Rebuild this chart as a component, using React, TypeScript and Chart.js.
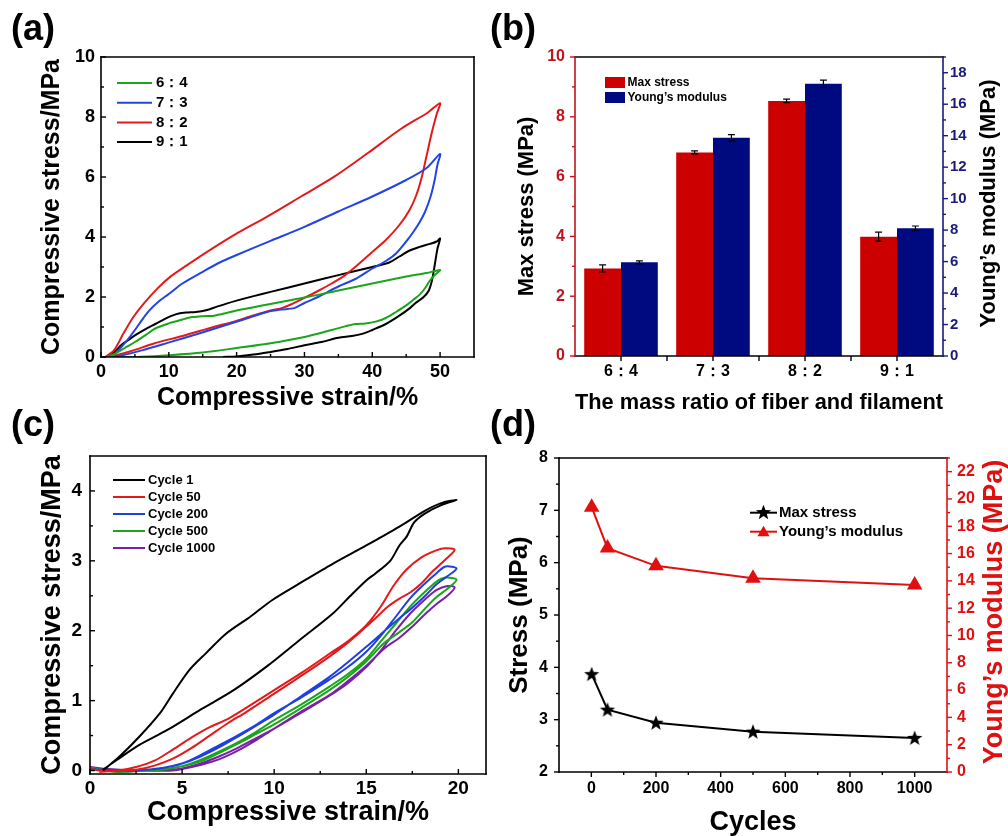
import React, { useEffect, useRef } from 'react';
import { Chart, registerables } from 'chart.js';

Chart.register(...registerables);

const FONT = "'Liberation Sans', Arial, Helvetica, sans-serif";

// ---------------- (a) data ----------------
const ratioLabels = ['6：4', '7：3', '8：2', '9：1'];
const ratioColors = ['#1aa51a', '#2244e6', '#e41a1a', '#000000'];
const loop64 = [
  [0.9, 0], [2, 0.1], [3.5, 0.3], [5, 0.5], [6.5, 0.72], [8, 0.95], [10, 1.12], [12, 1.25], [13.5, 1.33], [15, 1.36],
  [16.5, 1.37], [18, 1.44], [20, 1.55], [22.5, 1.66], [25, 1.77], [30, 1.98], [35, 2.22], [40, 2.45], [45, 2.68], [48, 2.8], [50, 2.9],
  [49.3, 2.75], [48.5, 2.55], [47.8, 2.3], [47, 2.08], [46, 1.9], [45, 1.72], [43.5, 1.5], [42, 1.3], [40.5, 1.18], [39, 1.12],
  [37.5, 1.1], [36, 1.02], [34, 0.9], [30, 0.67], [25, 0.46], [20, 0.3], [15, 0.15], [10, 0.06], [6, 0.01], [3, 0],
];
const loop73 = [
  [0.9, 0], [2, 0.1], [3, 0.33], [4, 0.6], [5, 0.9], [6, 1.22], [7, 1.52], [8.5, 1.85], [10, 2.1], [12, 2.45], [15, 2.84],
  [17.5, 3.15], [20, 3.4], [25, 3.87], [30, 4.34], [35, 4.85], [40, 5.35], [45, 5.9], [48, 6.3], [50, 6.77],
  [49.6, 6.4], [49.2, 5.9], [48.6, 5.35], [47.8, 4.85], [47, 4.5], [46, 4.15], [45, 3.85], [43.5, 3.45], [42, 3.2], [40, 2.95],
  [37.5, 2.6], [35, 2.35], [32, 2.0], [30, 1.8], [28.5, 1.63], [26.5, 1.58], [24.5, 1.5], [22, 1.32], [19.6, 1.15], [14.7, 0.8],
  [9.8, 0.47], [6, 0.22], [3, 0.05], [1.2, 0],
];
const loop82 = [
  [0.6, 0], [1.9, 0.22], [3.3, 0.78], [4.8, 1.34], [6.3, 1.78], [8.3, 2.28], [10.2, 2.67], [12.7, 3.06], [15.7, 3.51],
  [19.6, 4.06], [24.5, 4.68], [29.5, 5.35], [34.4, 6.01], [39.3, 6.79], [44.2, 7.6], [48.2, 8.15], [50, 8.46],
  [49.5, 8.1], [48.8, 7.5], [48, 6.7], [47.3, 6.0], [46.5, 5.4], [45.5, 4.9], [44, 4.4], [42, 3.9], [40, 3.5], [38, 3.1],
  [36, 2.73], [34, 2.45], [32, 2.2], [30, 1.97], [28, 1.75], [26.5, 1.62], [25, 1.55], [22, 1.35], [19.6, 1.18], [16.6, 1.0],
  [12, 0.7], [7.8, 0.45], [4.5, 0.2], [2.4, 0.07], [0.6, 0],
];
const loop91 = [
  [0.8, 0], [2, 0.17], [3, 0.4], [4, 0.56], [5, 0.72], [6.5, 0.92], [8, 1.1], [9.5, 1.28], [11, 1.42], [12.5, 1.48], [14, 1.5],
  [15.5, 1.56], [17, 1.67], [18.5, 1.78], [20, 1.88], [22.5, 2.03], [25, 2.17], [30, 2.45], [35, 2.73], [40, 3.0], [42.5, 3.15],
  [44, 3.35], [45.5, 3.55], [47, 3.67], [48.5, 3.77], [49.5, 3.85], [50, 3.95],
  [49.6, 3.6], [49.2, 3.05], [48.8, 2.55], [48.3, 2.2], [47.5, 1.98], [46.5, 1.82], [45.5, 1.62], [44, 1.38], [42, 1.1], [40, 0.9],
  [38.5, 0.77], [37, 0.7], [35, 0.64], [32.5, 0.5], [30, 0.39], [27.5, 0.27], [25, 0.17], [22.5, 0.08], [20, 0.02], [18, 0],
];
const strainTicksA = [0, 10, 20, 30, 40, 50];
const strainMinorA = [5, 15, 25, 35, 45];
const stressTicksA = [0, 2, 4, 6, 8, 10];
const stressMinorA = [1, 3, 5, 7, 9];

// ---------------- (b) data ----------------
const massRatios = ['6：4', '7：3', '8：2', '9：1'];
const maxStressB = [2.93, 6.81, 8.53, 3.99];
const maxStressErrB = [0.12, 0.05, 0.06, 0.15];
const youngsB = [5.95, 13.87, 17.3, 8.11];
const youngsErrB = [0.1, 0.2, 0.23, 0.15];
const stressTicksB = [0, 2, 4, 6, 8, 10];
const stressMinorB = [1, 3, 5, 7, 9];
const modulusTicksB = [0, 2, 4, 6, 8, 10, 12, 14, 16, 18];
const modulusMinorB = [1, 3, 5, 7, 9, 11, 13, 15, 17, 19];

// ---------------- (c) data ----------------
const cycleLabels = ['Cycle 1', 'Cycle 50', 'Cycle 200', 'Cycle 500', 'Cycle 1000'];
const cycleColors = ['#000000', '#e41a1a', '#1f3fe0', '#1aa51a', '#7b1fa8'];
const cycle1 = [
  [0.7, 0], [1.6, 0.2], [2.7, 0.49], [3.8, 0.82], [4.5, 1.1], [5.4, 1.44], [6.3, 1.68], [7.4, 1.96], [8.7, 2.2], [9.9, 2.44],
  [11.4, 2.68], [13.2, 2.96], [15, 3.22], [16.8, 3.49], [18.2, 3.72], [19.1, 3.83], [19.9, 3.87],
  [19.1, 3.8], [18.2, 3.68], [17.6, 3.55], [17.2, 3.35], [16.8, 3.22], [16.3, 3.0], [15.5, 2.82], [15, 2.72], [14.1, 2.49],
  [13.2, 2.25], [11.4, 1.87], [9.6, 1.49], [7.8, 1.15], [6, 0.87], [4.2, 0.58], [2.7, 0.37], [1.45, 0.15], [0.7, 0.01],
];
const cycle50 = [
  [0.5, -0.02], [1.5, 0], [2.5, 0.05], [3.5, 0.14], [4.5, 0.3], [5.5, 0.47], [6.5, 0.62], [7.5, 0.74], [8.5, 0.9], [10, 1.15],
  [11.5, 1.4], [13, 1.67], [14, 1.85], [15, 2.08], [15.8, 2.35], [16.5, 2.65], [17.2, 2.88], [18, 3.05], [18.8, 3.15], [19.3, 3.18], [19.8, 3.16],
  [19.3, 3.02], [18.6, 2.85], [18, 2.68], [17.4, 2.55], [16.8, 2.46], [16.2, 2.35], [15.5, 2.18], [15, 2.06], [14, 1.83],
  [13, 1.63], [11.5, 1.36], [10, 1.1], [8.5, 0.84], [7.5, 0.68], [6.5, 0.5], [5.5, 0.32], [4.5, 0.17], [3.5, 0.07], [2.5, 0.01],
  [1.5, -0.01], [0.5, 0], [0, 0.03],
];
const cycle200 = [
  [1, 0], [2.5, 0], [4, 0.04], [5, 0.1], [6, 0.22], [7, 0.36], [8, 0.5], [9, 0.65], [10, 0.82], [11.5, 1.05], [13, 1.3],
  [14, 1.48], [15, 1.7], [15.8, 1.93], [16.6, 2.2], [17.4, 2.47], [18.2, 2.68], [18.8, 2.82], [19.3, 2.92], [19.9, 2.89],
  [19.4, 2.78], [18.8, 2.66], [18.2, 2.5], [17.5, 2.33], [16.8, 2.18], [16, 2.0], [15, 1.77], [14, 1.55], [13, 1.34],
  [11.5, 1.07], [10, 0.8], [9, 0.64], [8, 0.48], [7, 0.33], [6, 0.2], [5, 0.1], [4, 0.04], [3, 0.01], [2, -0.01], [0, 0.02],
];
const cycle500 = [
  [2, 0], [3.5, 0], [5, 0.06], [6, 0.15], [7, 0.27], [8, 0.4], [9, 0.55], [10, 0.72], [11.5, 0.95], [13, 1.2], [14, 1.38],
  [15, 1.6], [15.8, 1.85], [16.6, 2.1], [17.4, 2.35], [18.2, 2.56], [18.8, 2.7], [19.3, 2.76], [19.9, 2.73],
  [19.4, 2.6], [18.8, 2.48], [18.2, 2.32], [17.5, 2.12], [16.8, 1.98], [16, 1.83], [15, 1.56], [14, 1.34], [13, 1.15],
  [11.5, 0.9], [10, 0.66], [9, 0.52], [8, 0.38], [7, 0.25], [6, 0.13], [5, 0.06], [4, 0.02], [3, 0], [1.5, -0.02], [0, 0.04],
];
const cycle1000 = [
  [3, 0], [4.5, 0], [6, 0.08], [7, 0.16], [8, 0.28], [9, 0.43], [10, 0.6], [11.5, 0.83], [13, 1.07], [14, 1.25], [15, 1.48],
  [15.8, 1.72], [16.6, 2.0], [17.4, 2.25], [18.2, 2.45], [18.8, 2.58], [19.4, 2.64], [19.8, 2.62],
  [19.4, 2.5], [18.8, 2.38], [18.2, 2.24], [17.5, 2.06], [16.8, 1.9], [16, 1.75], [15, 1.5], [14, 1.28], [13, 1.08],
  [11.5, 0.85], [10, 0.6], [9, 0.46], [8, 0.32], [7, 0.2], [6, 0.1], [5, 0.03], [4, 0.01], [2.5, 0], [1, 0.02], [0, 0.05],
];
const strainTicksC = [0, 5, 10, 15, 20];
const strainMinorC = [2.5, 7.5, 12.5, 17.5];
const stressTicksC = [0, 1, 2, 3, 4];
const stressMinorC = [0.5, 1.5, 2.5, 3.5];

// ---------------- (d) data ----------------
const cyclesD = [1, 50, 200, 500, 1000];
const maxStressD = [3.87, 3.19, 2.94, 2.77, 2.65];
const youngsD = [19.4, 16.4, 15.1, 14.2, 13.7];
const cycleTicksD = [0, 200, 400, 600, 800, 1000];
const cycleMinorD = [100, 300, 500, 700, 900];
const stressTicksD = [2, 3, 4, 5, 6, 7, 8];
const stressMinorD = [2.5, 3.5, 4.5, 5.5, 6.5, 7.5];
const modulusTicksD = [0, 2, 4, 6, 8, 10, 12, 14, 16, 18, 20, 22];
const modulusMinorD = [1, 3, 5, 7, 9, 11, 13, 15, 17, 19, 21, 23];

// ---------------- helpers ----------------
const RED_B = '#c0141c';
const NAVY = '#1a1a7a';
const RED_D = '#e01010';

function starPath(g: any, cx: number, cy: number, R: number, r: number) {
  g.beginPath();
  for (let i = 0; i < 10; i++) {
    const rad = i % 2 === 0 ? R : r;
    const a = -Math.PI / 2 + (i * Math.PI) / 5;
    const x = cx + rad * Math.cos(a);
    const y = cy + rad * Math.sin(a);
    if (i === 0) g.moveTo(x, y);
    else g.lineTo(x, y);
  }
  g.closePath();
}

function makeStar(R: number, color: string) {
  const c = document.createElement('canvas');
  const s = Math.ceil(R * 2 + 2);
  c.width = s;
  c.height = s;
  const g = c.getContext('2d')!;
  g.fillStyle = color;
  starPath(g, s / 2, s / 2 + 0.5, R, R * 0.42);
  g.fill();
  return c;
}

function trianglePath(g: any, cx: number, cy: number, r: number) {
  g.beginPath();
  for (let i = 0; i < 3; i++) {
    const a = (i * 2 * Math.PI) / 3;
    const x = cx + Math.sin(a) * r;
    const y = cy - Math.cos(a) * r;
    if (i === 0) g.moveTo(x, y);
    else g.lineTo(x, y);
  }
  g.closePath();
}

const framePlugin = {
  id: 'frame',
  afterDraw(chart: any, _a: any, o: any) {
    if (!o || !o.sides) return;
    const { ctx } = chart;
    const { left, right, top, bottom } = chart.chartArea;
    ctx.save();
    ctx.lineCap = 'butt';
    for (const t of o.ticks || []) {
      const sc = chart.scales[t.id];
      ctx.strokeStyle = t.color;
      ctx.lineWidth = t.width || 1.4;
      const one = (v: number, len: number) => {
        const p = sc.getPixelForValue(v);
        const s = t.dir === 'in' ? 1 : -1;
        ctx.beginPath();
        if (t.side === 'bottom') {
          ctx.moveTo(p, bottom);
          ctx.lineTo(p, bottom - s * len);
        } else if (t.side === 'left') {
          ctx.moveTo(left, p);
          ctx.lineTo(left + s * len, p);
        } else {
          ctx.moveTo(right, p);
          ctx.lineTo(right - s * len, p);
        }
        ctx.stroke();
      };
      t.major.forEach((v: number) => one(v, t.len));
      (t.minor || []).forEach((v: number) => one(v, t.minorLen));
    }
    const lw = o.lineWidth || 1.6;
    const h = lw / 2;
    ctx.lineWidth = lw;
    const seg = (c: string, x1: number, y1: number, x2: number, y2: number) => {
      ctx.strokeStyle = c;
      ctx.beginPath();
      ctx.moveTo(x1, y1);
      ctx.lineTo(x2, y2);
      ctx.stroke();
    };
    seg(o.sides.top, left - h, top, right + h, top);
    seg(o.sides.bottom, left - h, bottom, right + h, bottom);
    seg(o.sides.left, left, top - h, left, bottom + h);
    seg(o.sides.right, right, top - h, right, bottom + h);
    ctx.restore();
  },
};

const keysPlugin = {
  id: 'keys',
  afterDraw(chart: any, _a: any, o: any) {
    if (!o || !o.items) return;
    const { ctx } = chart;
    ctx.save();
    ctx.font = `bold ${o.size}px ${FONT}`;
    ctx.textBaseline = 'middle';
    ctx.textAlign = 'left';
    o.items.forEach((it: any, i: number) => {
      const y = o.y0 + i * o.dy;
      if (o.kind === 'box') {
        ctx.fillStyle = it.color;
        ctx.fillRect(o.x0, y - o.boxH / 2, o.x1 - o.x0, o.boxH);
      } else {
        ctx.strokeStyle = it.color;
        ctx.lineWidth = o.lw;
        ctx.beginPath();
        ctx.moveTo(o.x0, y);
        ctx.lineTo(o.x1, y);
        ctx.stroke();
        const cx = (o.x0 + o.x1) / 2;
        if (it.marker === 'star') {
          ctx.fillStyle = it.color;
          starPath(ctx, cx, y, 8, 3.4);
          ctx.fill();
        } else if (it.marker === 'triangle') {
          ctx.fillStyle = it.color;
          trianglePath(ctx, cx, y + 1, 7);
          ctx.fill();
        }
      }
      ctx.fillStyle = o.textColor || '#000';
      ctx.fillText(it.label, o.textX, y);
    });
    ctx.restore();
  },
};

const sideTitlePlugin = {
  id: 'sideTitle',
  afterDraw(chart: any, _a: any, o: any) {
    if (!o || !o.text) return;
    const { ctx, chartArea } = chart;
    ctx.save();
    ctx.translate(o.x, (chartArea.top + chartArea.bottom) / 2 + (o.dy || 0));
    ctx.rotate(-Math.PI / 2);
    ctx.font = `bold ${o.size}px ${FONT}`;
    ctx.fillStyle = o.color;
    ctx.textAlign = 'center';
    ctx.textBaseline = 'middle';
    ctx.fillText(o.text, 0, 0);
    ctx.restore();
  },
};

const errBarPlugin = {
  id: 'errBars',
  afterDatasetsDraw(chart: any, _a: any, o: any) {
    if (!o || !o.sets) return;
    const { ctx } = chart;
    ctx.save();
    ctx.strokeStyle = '#000';
    ctx.lineWidth = 1.2;
    o.sets.forEach((errs: number[], di: number) => {
      const meta = chart.getDatasetMeta(di);
      const sc = chart.scales[meta.yAxisID];
      const vals = chart.data.datasets[di].data;
      meta.data.forEach((bar: any, j: number) => {
        const v = vals[j];
        const e = errs[j];
        const yT = sc.getPixelForValue(v + e);
        const yB = sc.getPixelForValue(v - e);
        const x = bar.x;
        const cw = o.cap;
        ctx.beginPath();
        ctx.moveTo(x, yT);
        ctx.lineTo(x, yB);
        ctx.moveTo(x - cw, yT);
        ctx.lineTo(x + cw, yT);
        ctx.moveTo(x - cw, yB);
        ctx.lineTo(x + cw, yB);
        ctx.stroke();
      });
    });
    ctx.restore();
  },
};

const allPlugins = [framePlugin, keysPlugin, sideTitlePlugin, errBarPlugin];

function tickFont(size: number) {
  return { family: FONT, size, weight: 'bold' as const, lineHeight: 1 };
}

function axis(o: any) {
  const horizontal = o.position === 'bottom';
  const ax: any = {
    type: o.type || 'linear',
    position: o.position,
    grid: { display: false, drawTicks: false },
    border: { display: false },
    ticks: {
      color: o.color || '#000',
      padding: o.pad,
      autoSkip: false,
      maxRotation: 0,
      minRotation: 0,
      font: tickFont(o.size),
    },
    title: o.title
      ? {
          display: true,
          text: o.title,
          color: o.titleColor || '#000',
          font: { family: FONT, size: o.titleSize, weight: 'bold', lineHeight: 1 },
          padding: horizontal ? { top: 0, bottom: o.titlePad } : { top: o.titlePad, bottom: 0 },
        }
      : { display: false },
    afterFit: (s: any) => {
      if (horizontal) s.height = o.extent;
      else s.width = o.extent;
    },
  };
  if (ax.type === 'linear') {
    ax.min = o.min;
    ax.max = o.max;
    ax.ticks.callback = (v: any) => String(v);
    ax.afterBuildTicks = (s: any) => {
      s.ticks = o.ticks.map((v: number) => ({ value: v }));
    };
  } else {
    ax.offset = true;
  }
  return ax;
}

function baseOptions(padding: any) {
  return {
    responsive: false,
    animation: false,
    devicePixelRatio: 1,
    events: [],
    layout: { padding },
  };
}

function toXY(arr: number[][]) {
  return arr.map(([x, y]) => ({ x, y }));
}

// ---------------- panel configs ----------------
function configA() {
  const loops = [loop64, loop73, loop82, loop91];
  return {
    type: 'line',
    data: {
      datasets: loops.map((l, i) => ({
        label: ratioLabels[i],
        data: toXY(l),
        borderColor: ratioColors[i],
        backgroundColor: ratioColors[i],
        borderWidth: 2,
        pointRadius: 0,
        tension: 0.3,
        fill: false,
      })),
    },
    options: {
      ...baseOptions({ top: 57, right: 16, left: 0, bottom: 0 }),
      scales: {
        x: axis({ position: 'bottom', min: 0, max: 55, ticks: strainTicksA, size: 18, pad: 6, extent: 61, title: 'Compressive strain/%', titleSize: 25, titlePad: 7.5 }),
        y: axis({ position: 'left', min: 0, max: 10, ticks: stressTicksA, size: 18, pad: 6, extent: 101, title: 'Compressive stress/MPa', titleSize: 25, titlePad: 40 }),
      },
      plugins: {
        legend: { display: false },
        tooltip: { enabled: false },
        frame: {
          sides: { top: '#000', bottom: '#000', left: '#000', right: '#000' },
          lineWidth: 1.6,
          ticks: [
            { id: 'x', side: 'bottom', major: strainTicksA, minor: strainMinorA, dir: 'in', len: 5, minorLen: 3, color: '#000' },
            { id: 'y', side: 'left', major: stressTicksA, minor: stressMinorA, dir: 'in', len: 5, minorLen: 3, color: '#000' },
          ],
        },
        keys: {
          items: ratioLabels.map((l, i) => ({ label: l, color: ratioColors[i] })),
          kind: 'line', x0: 117, x1: 152, textX: 156, y0: 83, dy: 19.7, size: 15, lw: 2,
        },
      },
    },
    plugins: allPlugins,
  };
}

function configB() {
  return {
    type: 'bar',
    data: {
      labels: massRatios,
      datasets: [
        { label: 'Max stress', data: maxStressB, backgroundColor: '#cc0000', borderWidth: 0, yAxisID: 'y', barPercentage: 1, categoryPercentage: 0.8 },
        { label: 'Young’s modulus', data: youngsB, backgroundColor: '#000a80', borderWidth: 0, yAxisID: 'y1', barPercentage: 1, categoryPercentage: 0.8 },
      ],
    },
    options: {
      ...baseOptions({ top: 57, right: 0, left: 0, bottom: 0 }),
      scales: {
        x: axis({ type: 'category', position: 'bottom', size: 16, pad: 8, extent: 62, title: 'The mass ratio of fiber and filament', titleSize: 22, titlePad: 4 }),
        y: axis({ position: 'left', min: 0, max: 10, ticks: stressTicksB, size: 16, pad: 10, extent: 85, color: RED_B, title: 'Max stress (MPa)', titleSize: 22, titlePad: 26 }),
        y1: axis({ position: 'right', min: 0, max: 19, ticks: modulusTicksB, size: 15, pad: 7, extent: 65, color: NAVY }),
      },
      plugins: {
        legend: { display: false },
        tooltip: { enabled: false },
        frame: {
          sides: { top: '#000', bottom: '#000', left: RED_B, right: NAVY },
          lineWidth: 1.6,
          ticks: [
            { id: 'x', side: 'bottom', major: [0, 1, 2, 3], minor: [0.5, 1.5, 2.5], dir: 'out', len: 5, minorLen: 5, color: '#000' },
            { id: 'y', side: 'left', major: stressTicksB, minor: stressMinorB, dir: 'out', len: 5, minorLen: 3, color: RED_B },
            { id: 'y1', side: 'right', major: modulusTicksB, minor: modulusMinorB, dir: 'out', len: 5, minorLen: 3, color: NAVY },
          ],
        },
        keys: {
          items: [
            { label: 'Max stress', color: '#cc0000' },
            { label: 'Young’s modulus', color: '#000a80' },
          ],
          kind: 'box', x0: 115, x1: 135, boxH: 11, textX: 137.5, y0: 82.5, dy: 15, size: 12,
        },
        sideTitle: { text: 'Young’s modulus (MPa)', x: 499, size: 22, color: '#000', dy: -3 },
        errBars: { sets: [maxStressErrB, youngsErrB], cap: 3.5 },
      },
    },
    plugins: allPlugins,
  };
}

function configC() {
  const loops = [cycle1, cycle50, cycle200, cycle500, cycle1000];
  return {
    type: 'line',
    data: {
      datasets: loops.map((l, i) => ({
        label: cycleLabels[i],
        data: toXY(l),
        borderColor: cycleColors[i],
        backgroundColor: cycleColors[i],
        borderWidth: 2,
        pointRadius: 0,
        tension: 0.3,
        fill: false,
      })),
    },
    options: {
      ...baseOptions({ top: 38, right: 4, left: 0, bottom: 0 }),
      scales: {
        x: axis({ position: 'bottom', min: 0, max: 21.5, ticks: strainTicksC, size: 19, pad: 5, extent: 62, title: 'Compressive strain/%', titleSize: 27, titlePad: 9.5 }),
        y: axis({ position: 'left', min: -0.05, max: 4.5, ticks: stressTicksC, size: 19, pad: 8, extent: 90, title: 'Compressive stress/MPa', titleSize: 27, titlePad: 39.5 }),
      },
      plugins: {
        legend: { display: false },
        tooltip: { enabled: false },
        frame: {
          sides: { top: '#000', bottom: '#000', left: '#000', right: '#000' },
          lineWidth: 1.6,
          ticks: [
            { id: 'x', side: 'bottom', major: strainTicksC, minor: strainMinorC, dir: 'in', len: 5, minorLen: 3, color: '#000' },
            { id: 'y', side: 'left', major: stressTicksC, minor: stressMinorC, dir: 'in', len: 5, minorLen: 3, color: '#000' },
          ],
        },
        keys: {
          items: cycleLabels.map((l, i) => ({ label: l, color: cycleColors[i] })),
          kind: 'line', x0: 113, x1: 145, textX: 148, y0: 62, dy: 17, size: 13, lw: 2,
        },
      },
    },
    plugins: allPlugins,
  };
}

function configD() {
  const star = makeStar(8, '#000');
  return {
    type: 'line',
    data: {
      datasets: [
        {
          label: 'Max stress',
          data: cyclesD.map((c, i) => ({ x: c, y: maxStressD[i] })),
          yAxisID: 'y',
          borderColor: '#000',
          backgroundColor: '#000',
          borderWidth: 2,
          pointStyle: star,
          pointRadius: 8,
          tension: 0,
        },
        {
          label: 'Young’s modulus',
          data: cyclesD.map((c, i) => ({ x: c, y: youngsD[i] })),
          yAxisID: 'y1',
          borderColor: RED_D,
          backgroundColor: RED_D,
          pointBorderColor: RED_D,
          borderWidth: 2,
          pointStyle: 'triangle',
          pointRadius: 7,
          tension: 0,
        },
      ],
    },
    options: {
      ...baseOptions({ top: 40, right: 0, left: 0, bottom: 0 }),
      scales: {
        x: axis({ position: 'bottom', min: -100, max: 1100, ticks: cycleTicksD, size: 16, pad: 9, extent: 64, title: 'Cycles', titleSize: 27, titlePad: 0 }),
        y: axis({ position: 'left', min: 2, max: 8, ticks: stressTicksD, size: 16, pad: 11, extent: 69, title: 'Stress (MPa)', titleSize: 26, titlePad: 17 }),
        y1: axis({ position: 'right', min: 0, max: 23, ticks: modulusTicksD, size: 16, pad: 10, extent: 61, color: RED_D }),
      },
      plugins: {
        legend: { display: false },
        tooltip: { enabled: false },
        frame: {
          sides: { top: '#000', bottom: '#000', left: '#000', right: RED_D },
          lineWidth: 1.6,
          ticks: [
            { id: 'x', side: 'bottom', major: cycleTicksD, minor: cycleMinorD, dir: 'out', len: 5, minorLen: 3, color: '#000' },
            { id: 'y', side: 'left', major: stressTicksD, minor: stressMinorD, dir: 'out', len: 5, minorLen: 3, color: '#000' },
            { id: 'y1', side: 'right', major: modulusTicksD, minor: modulusMinorD, dir: 'out', len: 5, minorLen: 3, color: RED_D },
          ],
        },
        keys: {
          items: [
            { label: 'Max stress', color: '#000', marker: 'star' },
            { label: 'Young’s modulus', color: RED_D, marker: 'triangle' },
          ],
          kind: 'line', x0: 260, x1: 287, textX: 289, y0: 94.7, dy: 19, size: 15, lw: 2,
        },
        sideTitle: { text: 'Young’s modulus (MPa)', x: 505, size: 27, color: RED_D, dy: -3 },
      },
    },
    plugins: allPlugins,
  };
}

function ChartPanel({ make, left, top, width, height }: any) {
  const ref = useRef<HTMLCanvasElement>(null);
  useEffect(() => {
    const ch = new Chart(ref.current as HTMLCanvasElement, make() as any);
    return () => ch.destroy();
  }, [make]);
  return (
    <canvas
      ref={ref}
      width={width}
      height={height}
      style={{ position: 'absolute', left, top, width, height, display: 'block' }}
    />
  );
}

const labelStyle: any = {
  position: 'absolute',
  fontFamily: FONT,
  fontWeight: 'bold',
  fontSize: 36,
  lineHeight: '36px',
  color: '#000',
  whiteSpace: 'nowrap',
};

export default function App() {
  return (
    <div style={{ position: 'absolute', left: 0, top: 0, width: 1008, height: 836, background: '#fff', overflow: 'hidden' }}>
      <ChartPanel make={configA} left={0} top={0} width={490} height={418} />
      <ChartPanel make={configB} left={490} top={0} width={518} height={418} />
      <ChartPanel make={configC} left={0} top={418} width={490} height={418} />
      <ChartPanel make={configD} left={490} top={418} width={518} height={418} />
      <div style={{ ...labelStyle, left: 11, top: 10 }}>(a)</div>
      <div style={{ ...labelStyle, left: 490, top: 10 }}>(b)</div>
      <div style={{ ...labelStyle, left: 11, top: 406 }}>(c)</div>
      <div style={{ ...labelStyle, left: 490, top: 406 }}>(d)</div>
    </div>
  );
}
